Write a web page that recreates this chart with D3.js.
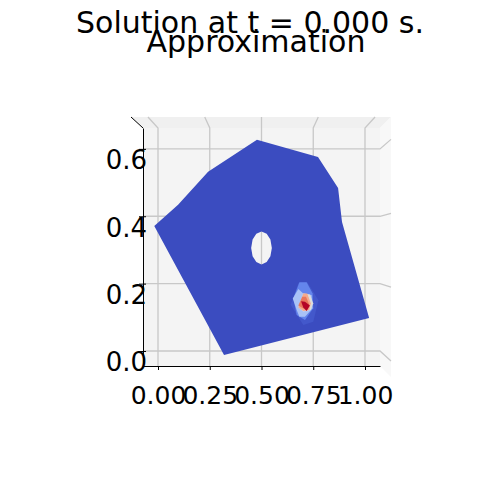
<!DOCTYPE html>
<html>
<head>
<meta charset="utf-8">
<script src="https://cdn.jsdelivr.net/npm/d3@7"></script>
<style>
html, body { margin: 0; padding: 0; background: #fff; }
svg text { font-family: "DejaVu Sans", sans-serif; fill: #000; }
</style>
</head>
<body>
<div id="chart"></div>
<script>
const xTicks = [0, 0.25, 0.5, 0.75, 1];
const yTicks = [0, 0.2, 0.4, 0.6];
const xTickLabels = ['0.00', '0.25', '0.50', '0.75', '1.00'];
const yTickLabels = ['0.0', '0.2', '0.4', '0.6'];

// outline of the mesh and the hole
const meshOutline = [[-0.018, 0.371], [0.097, 0.434], [0.242, 0.532], [0.478, 0.627], [0.773, 0.576],
    [0.870, 0.484], [0.889, 0.383], [1.020, 0.098], [0.319, -0.012]];
const holeOutline = [[0.500, 0.355], [0.525, 0.348], [0.543, 0.331], [0.550, 0.306], [0.543, 0.281],
    [0.525, 0.264], [0.500, 0.257], [0.475, 0.264], [0.457, 0.281], [0.450, 0.306], [0.457, 0.331], [0.475, 0.348]];

// filled levels around the peak, lowest first
const level1 = [[0.641, 0.137], [0.678, 0.201], [0.721, 0.204], [0.775, 0.151], [0.750, 0.087], [0.702, 0.077]];
const level2 = [[0.654, 0.156], [0.683, 0.204], [0.718, 0.204], [0.747, 0.171], [0.750, 0.127], [0.710, 0.092], [0.670, 0.107]];
const level3 = [[0.651, 0.156], [0.678, 0.184], [0.702, 0.171], [0.742, 0.166], [0.747, 0.127], [0.710, 0.102], [0.683, 0.102], [0.670, 0.122]];
const level4 = [[0.702, 0.171], [0.734, 0.168], [0.750, 0.142], [0.738, 0.122], [0.702, 0.117], [0.678, 0.129]];
const level5 = [[0.702, 0.171], [0.721, 0.171], [0.738, 0.142], [0.731, 0.122], [0.702, 0.119], [0.678, 0.129]];
const level6 = [[0.697, 0.161], [0.715, 0.161], [0.731, 0.137], [0.718, 0.120], [0.678, 0.135]];
const level7 = [[0.691, 0.148], [0.710, 0.146], [0.734, 0.135], [0.718, 0.119], [0.702, 0.129]];
const levels = [level1, level2, level3, level4, level5, level6, level7];
const levelColors = ['#4358cb', '#6485ec', '#a9c2f6', '#dcdcdc', '#f4a98c', '#e8765c', '#b40426'];

const svg = d3.select('#chart').append('svg')
    .attr('width', 500)
    .attr('height', 500)
    .style('display', 'block');

// box of the 3d axes in pixels
const box = {left: 143, right: 380, top: 128, bottom: 366, depth: 11};

const x = d3.scaleLinear().domain([-0.0725, 1.0725]).range([box.left, box.right]);
const y = d3.scaleLinear().domain([-0.0445, 0.662]).range([box.bottom, box.top]);

// panes
const pane = (pts, fill) => svg.append('polygon')
    .attr('points', pts.map(p => p.join(',')).join(' '))
    .attr('fill', fill);

pane([[box.left, box.top], [box.right, box.top], [box.right, box.bottom], [box.left, box.bottom]], '#f4f4f4');
pane([[box.left, box.top], [box.right, box.top], [box.right + box.depth, box.top - box.depth], [box.left - 12, box.top - box.depth]], '#f0f0f0');
pane([[box.right, box.top], [box.right + box.depth, box.top - box.depth], [box.right + box.depth, box.bottom + box.depth], [box.right, box.bottom]], '#f8f8f8');

// grid, the slanted bits follow the perspective of the box
const grid = svg.append('g').attr('stroke', '#c8c8c8').attr('stroke-width', 1.3).attr('fill', 'none');
const persp = 1.097;
const cx = (box.left + box.right) / 2;
const cy = (box.top + box.bottom) / 2;

xTicks.forEach(t => {
    grid.append('path').attr('d', d3.line()([
        [x(t), box.bottom],
        [x(t), box.top],
        [cx + (x(t) - cx) * persp, box.top - box.depth]
    ]));
});
yTicks.forEach(t => {
    grid.append('path').attr('d', d3.line()([
        [box.left, y(t)],
        [box.right, y(t)],
        [box.right + box.depth, cy + (y(t) - cy) * persp]
    ]));
});

// surface seen from above
const line = d3.line().x(d => x(d[0])).y(d => y(d[1])).curve(d3.curveLinearClosed);

svg.append('path')
    .attr('d', line(meshOutline) + line(holeOutline))
    .attr('fill', '#3b4cc0')
    .attr('fill-rule', 'evenodd');

svg.selectAll('path.level')
    .data(levels)
    .enter()
    .append('path')
    .attr('class', 'level')
    .attr('d', d => line(d))
    .attr('fill', (d, i) => levelColors[i]);

// axes
const xAxis = svg.append('g')
    .attr('transform', `translate(0,${box.bottom})`)
    .call(d3.axisBottom(x).tickValues(xTicks).tickFormat((d, i) => xTickLabels[i]).tickSize(4).tickSizeOuter(0).tickPadding(14));
xAxis.selectAll('text').style('font-size', '25px').attr('dy', '0.8em');

const yAxis = svg.append('g')
    .attr('transform', `translate(${box.left},0)`)
    .call(d3.axisLeft(y).tickValues(yTicks).tickFormat((d, i) => yTickLabels[i]).tickSize(4).tickSizeOuter(0).tickPadding(-8));
yAxis.selectAll('text').style('font-size', '26px').attr('dy', '0.76em');
yAxis.selectAll('.tick line').attr('x1', -4).attr('x2', 3);

svg.selectAll('.domain').attr('stroke', '#000').attr('stroke-width', 1);
svg.selectAll('.tick line').attr('stroke', '#000').attr('stroke-width', 1);

// short edge at the top left corner of the box
svg.append('line')
    .attr('x1', box.left).attr('y1', box.top)
    .attr('x2', box.left - 12).attr('y2', box.top - box.depth)
    .attr('stroke', '#000').attr('stroke-width', 1);

svg.append('text')
    .attr('x', 250).attr('y', 33)
    .attr('text-anchor', 'middle')
    .style('font-size', '30px')
    .text('Solution at t = 0.000 s.');

svg.append('text')
    .attr('x', 256).attr('y', 52)
    .attr('text-anchor', 'middle')
    .style('font-size', '30px')
    .text('Approximation');
</script>
</body>
</html>
